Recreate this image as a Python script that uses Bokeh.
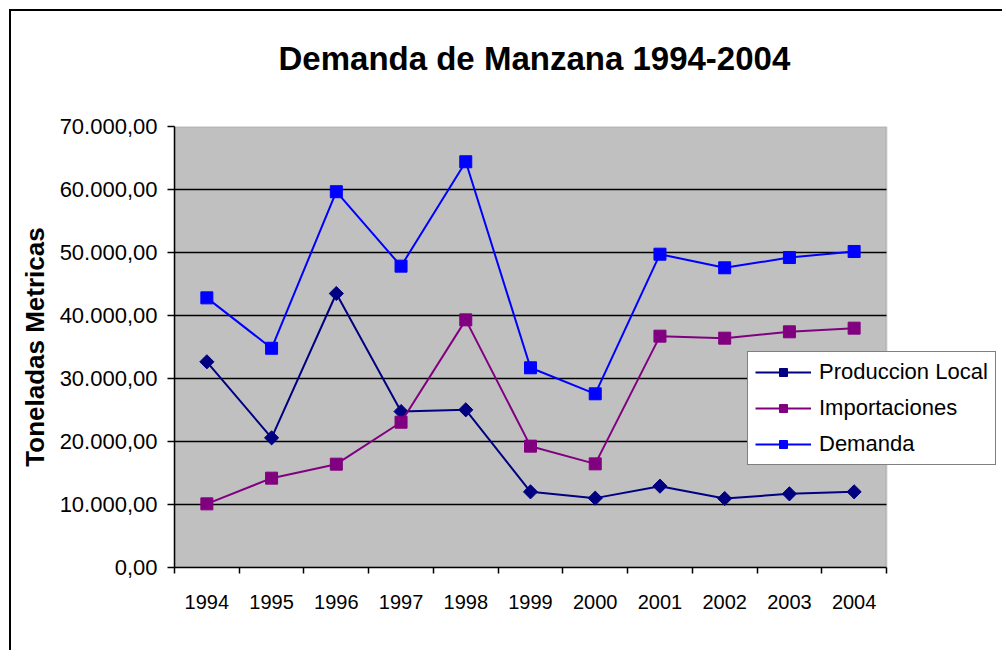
from bokeh.plotting import figure
from bokeh.models import FixedTicker, Range1d, Legend, LegendItem, BoxAnnotation, Title
from bokeh.embed import file_html
from bokeh.resources import INLINE
import numpy as np

years = ["1994", "1995", "1996", "1997", "1998", "1999", "2000", "2001", "2002", "2003", "2004"]
produccion_local = [32650, 20580, 43490, 24760, 25030, 12010, 11010, 12910, 10950, 11690, 12010]
importaciones = [10100, 14180, 16400, 23060, 39310, 19260, 16450, 36720, 36400, 37410, 37990]
demanda = [42800, 34800, 59650, 47830, 64400, 31700, 27570, 49730, 47570, 49200, 50160]
y_ticks = [0, 10000, 20000, 30000, 40000, 50000, 60000, 70000]


def fmt(v):
    s = f"{v:,.2f}"
    return s.replace(",", "X").replace(".", ",").replace("X", ".")


n = len(years)
x = list(np.arange(n) + 0.5)

FONT = "Liberation Sans"

# the plotted area is 712px wide; the frame extends further right so the legend can overhang it
AREA_W = 712
FRAME_W = 828
x_end = n * FRAME_W / AREA_W

p = figure(
    output_backend="svg", toolbar_location=None,
    frame_width=FRAME_W, frame_height=441,
    min_border_left=163, min_border_right=0, min_border_top=115, min_border_bottom=83,
    x_range=Range1d(0, x_end), y_range=Range1d(0, 70000),
)
p.styles = {"border-left": "2px solid black", "border-top": "2px solid black",
            "margin-top": "9px", "margin-left": "9px"}
p.background_fill_color = "white"
p.border_fill_color = "white"
p.outline_line_color = None

# spacer between frame and title (closest to the frame), then the title itself
spacer = Title(text=" ", text_font_size="2px", standoff=46)
p.add_layout(spacer, "above")
main_title = Title(text="Demanda de Manzana 1994-2004", align="left", offset=104,
                   text_font=FONT, text_font_size="33px", text_font_style="bold",
                   text_color="black", standoff=0)
p.add_layout(main_title, "above")

area = BoxAnnotation(left=0, right=n, bottom=0, top=70000,
                     fill_color="#C0C0C0", fill_alpha=1,
                     line_color="#808080", line_width=2, level="image")
p.add_layout(area)

# y axis
p.yaxis.ticker = FixedTicker(ticks=y_ticks)
p.yaxis.major_label_overrides = {t: fmt(t) for t in y_ticks}
p.yaxis.major_label_text_font = FONT
p.yaxis.major_label_text_font_size = "22px"
p.yaxis.major_label_text_color = "black"
p.yaxis.major_tick_out = 7
p.yaxis.major_tick_in = 0
p.yaxis.major_tick_line_width = 1.5
p.yaxis.minor_tick_line_color = None
p.yaxis.axis_line_width = 1.5
p.yaxis.major_label_standoff = 10
p.yaxis.axis_label = "Toneladas Metricas"
p.yaxis.axis_label_text_font = FONT
p.yaxis.axis_label_text_font_size = "26px"
p.yaxis.axis_label_text_font_style = "bold"
p.yaxis.axis_label_text_color = "black"
p.yaxis.axis_label_standoff = 7

# x axis
p.xaxis.bounds = (0, n)
p.xaxis.ticker = FixedTicker(ticks=x, minor_ticks=list(range(n + 1)))
p.xaxis.major_label_overrides = {float(xi): y for xi, y in zip(x, years)}
p.xaxis.major_label_text_font = FONT
p.xaxis.major_label_text_font_size = "20px"
p.xaxis.major_label_text_color = "black"
p.xaxis.major_tick_out = 0
p.xaxis.major_tick_in = 0
p.xaxis.minor_tick_out = 6
p.xaxis.minor_tick_in = 0
p.xaxis.minor_tick_line_width = 1.5
p.xaxis.axis_line_width = 1.5
p.xaxis.major_label_standoff = 21

# horizontal gridlines limited to the plotted area
p.xgrid.grid_line_color = None
p.ygrid.grid_line_color = None
grid_y = y_ticks[1:-1]
p.segment(x0=[0] * len(grid_y), x1=[n] * len(grid_y), y0=grid_y, y1=grid_y,
          line_color="black", line_width=1.5)

series = [
    ("Produccion Local", produccion_local, "#000080", "square", 10, np.pi / 4),
    ("Importaciones", importaciones, "#800080", "square", 12, 0),
    ("Demanda", demanda, "#0000FF", "square", 12, 0),
]
items = []
for name, vals, color, marker, size, ang in series:
    l = p.line(x, vals, line_color=color, line_width=2)
    m = p.scatter(x, vals, marker=marker, size=size, angle=ang,
                  fill_color=color, line_color=color)
    items.append(LegendItem(label=name, renderers=[l, m]))

legend = Legend(items=items, location=(573, 102))
legend.label_text_font = FONT
legend.label_text_font_size = "22px"
legend.label_text_color = "black"
legend.glyph_width = 56
legend.glyph_height = 20
legend.label_height = 20
legend.label_standoff = 8
legend.spacing = 10
legend.padding = 7
legend.margin = 0
legend.border_line_color = "black"
legend.border_line_width = 1.5
legend.background_fill_color = "white"
legend.background_fill_alpha = 1
p.add_layout(legend, "center")

open("out.html", "w").write(file_html(p, INLINE))
